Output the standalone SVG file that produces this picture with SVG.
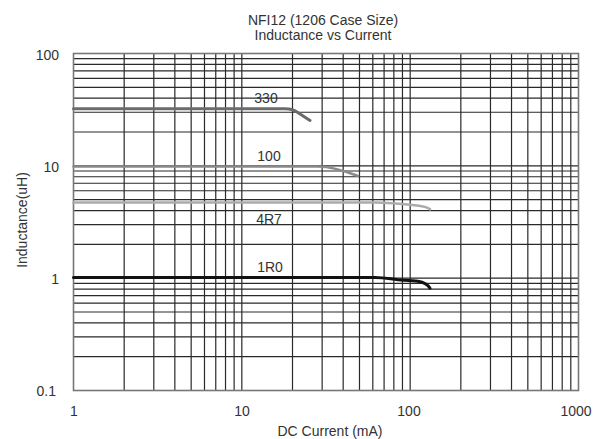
<svg xmlns="http://www.w3.org/2000/svg" width="594" height="439" viewBox="0 0 594 439">
<style>
text{font-family:"Liberation Sans",Arial,sans-serif;font-size:14px;fill:#333}
.g{stroke:#2a2a2a;stroke-width:1.2;fill:none}
.fr{stroke:#777;stroke-width:1.6;fill:none}
.c{fill:none;stroke-linecap:round;stroke-linejoin:round}
</style>
<rect width="594" height="439" fill="#fff"/>
<g id="title">
<text x="323" y="25" text-anchor="middle">NFI12 (1206 Case Size)</text>
<text x="323" y="40" text-anchor="middle">Inductance vs Current</text>
</g>
<g id="grid">
<path class="g" d="M124.17 53.5V390.5M153.81 53.5V390.5M174.85 53.5V390.5M191.16 53.5V390.5M204.49 53.5V390.5M215.76 53.5V390.5M225.52 53.5V390.5M234.13 53.5V390.5M241.83 53.5V390.5M292.5 53.5V390.5M322.14 53.5V390.5M343.18 53.5V390.5M359.49 53.5V390.5M372.82 53.5V390.5M384.09 53.5V390.5M393.85 53.5V390.5M402.46 53.5V390.5M410.17 53.5V390.5M460.84 53.5V390.5M490.48 53.5V390.5M511.52 53.5V390.5M527.83 53.5V390.5M541.16 53.5V390.5M552.43 53.5V390.5M562.19 53.5V390.5M570.8 53.5V390.5"/>
<path class="g" d="M73.5 356.69H578.5M73.5 336.91H578.5M73.5 322.87H578.5M73.5 311.99H578.5M73.5 303.09H578.5M73.5 295.57H578.5M73.5 289.06H578.5M73.5 283.31H578.5M73.5 278.17H578.5M73.5 244.36H578.5M73.5 224.58H578.5M73.5 210.54H578.5M73.5 199.66H578.5M73.5 190.76H578.5M73.5 183.24H578.5M73.5 176.73H578.5M73.5 170.98H578.5M73.5 165.83H578.5M73.5 132.02H578.5M73.5 112.24H578.5M73.5 98.2H578.5M73.5 87.32H578.5M73.5 78.42H578.5M73.5 70.9H578.5M73.5 64.39H578.5M73.5 58.64H578.5"/>
<rect class="fr" x="73.5" y="53.5" width="505" height="337"/>
</g>
<g id="y-axis">
<text x="59" y="60" text-anchor="end">100</text>
<text x="59" y="172" text-anchor="end">10</text>
<text x="59" y="284" text-anchor="end">1</text>
<text x="56" y="396" text-anchor="end">0.1</text>
<text transform="translate(27 220) rotate(-90)" text-anchor="middle">Inductance(uH)</text>
</g>
<g id="x-axis">
<text x="74" y="416" text-anchor="middle">1</text>
<text x="242" y="416" text-anchor="middle">10</text>
<text x="409" y="416" text-anchor="middle">100</text>
<text x="576" y="416" text-anchor="middle">1000</text>
<text x="330" y="436" text-anchor="middle">DC Current (mA)</text>
</g>
<g id="curves">
<g id="c330">
<path class="c" stroke="#6b6b6b" stroke-width="3" d="M73.5 108.8H285C291 108.8 294 109.8 297 112L310 120.5"/>
<text x="266" y="103" text-anchor="middle" fill="#666">330</text>
</g>
<g id="c100">
<path class="c" stroke="#8a8a8a" stroke-width="2.6" d="M73.5 166.5H318C330 166.5 345 171 358 176"/>
<text x="269" y="161" text-anchor="middle" fill="#777">100</text>
</g>
<g id="c4R7">
<path class="c" stroke="#ababab" stroke-width="2.6" d="M73.5 202.5H375C392 202.6 405 204.2 415 205.3C424 206.3 428 207.5 430 209.3"/>
<text x="269" y="224" text-anchor="middle" fill="#a8a8a8">4R7</text>
</g>
<g id="c1R0">
<path class="c" stroke="#111" stroke-width="3" d="M73.5 277.5H375C385 277.6 390 279 398 279.8C405 280.3 412 280.3 418 281.3C425 282.5 428 285 430 288.3"/>
<text x="270" y="271.5" text-anchor="middle" fill="#222">1R0</text>
</g>
</g>
</svg>
